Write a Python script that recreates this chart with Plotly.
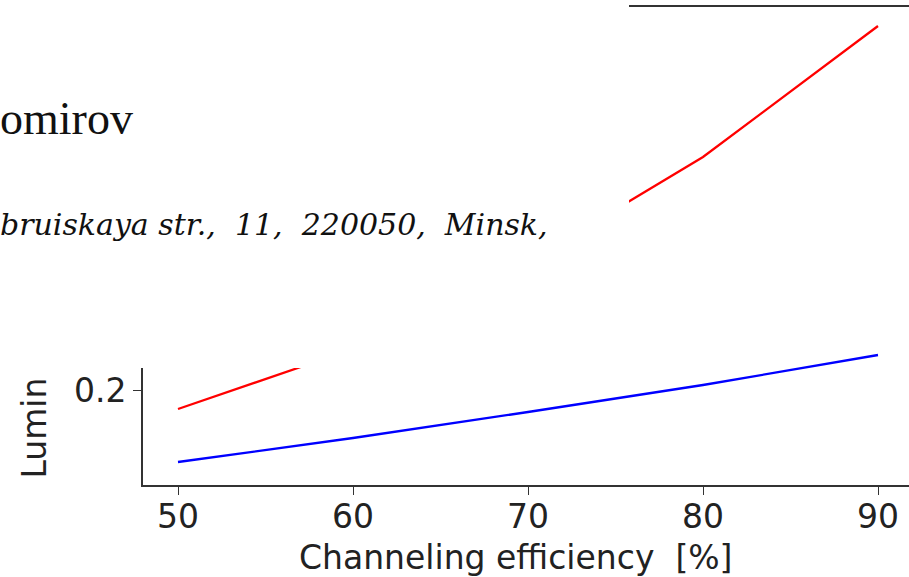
import plotly.graph_objects as go

# Data
efficiency = [50, 60, 70, 80, 90]
lum_red = [0.162, 0.282, 0.456, 0.666, 0.928]
lum_blue = [0.056, 0.104, 0.156, 0.210, 0.270]
x_ticks = [50, 60, 70, 80, 90]
y_ticks = [0.2]  # the only y tick left uncovered by the overlaid text panel

W, H = 909, 577
L, R, T, B = 143, 0, 7, 92
PW, PH = W - L - R, H - T - B


def px_x(px):
    return (px - L) / PW


def px_y(py):
    return (H - B - py) / PH


fig = go.Figure()
fig.add_trace(go.Scatter(x=efficiency, y=lum_red, mode="lines",
                         line=dict(color="#ff0000", width=2.3), hoverinfo="skip"))
fig.add_trace(go.Scatter(x=efficiency, y=lum_blue, mode="lines",
                         line=dict(color="#0000ff", width=2.3), hoverinfo="skip"))

tickfont = dict(family="DejaVu Sans", size=33, color="#222222")

fig.update_layout(
    width=W, height=H,
    margin=dict(l=L, r=R, t=T, b=B, pad=0),
    paper_bgcolor="white", plot_bgcolor="white",
    showlegend=False,
    xaxis=dict(range=[48, 48 + PW / 17.5], tickvals=x_ticks, ticks="outside",
               ticklen=8, tickwidth=1.3, tickcolor="#333333",
               ticklabelstandoff=-6,
               showgrid=False, zeroline=False, showline=True, mirror=True,
               linecolor="#333333", linewidth=1.6, tickfont=tickfont),
    yaxis=dict(range=[0.2 - 95 / 500, 0.2 + 383 / 500], tickvals=y_ticks,
               ticktext=["0.2"],
               ticks="outside", ticklen=8, tickwidth=1.3, tickcolor="#333333",
               showgrid=False, zeroline=False, showline=True,
               linecolor="#333333", linewidth=1.6, tickfont=tickfont),
    shapes=[dict(type="rect", xref="paper", yref="paper",
                 x0=px_x(-10), x1=px_x(629), y0=px_y(368), y1=px_y(-10),
                 fillcolor="white", line=dict(width=0), layer="above")],
    annotations=[
        dict(text="Channeling efficiency\u00a0 [%]", xref="paper", yref="paper",
             x=px_x(516), y=px_y(557), xanchor="center", yanchor="middle",
             showarrow=False, font=dict(family="DejaVu Sans", size=33, color="#222222")),
        dict(text="Lumin", xref="paper", yref="paper", textangle=-90,
             x=px_x(34), y=px_y(481), xanchor="center", yanchor="bottom",
             showarrow=False, font=dict(family="DejaVu Sans", size=33, color="#222222")),
        dict(text="omirov", xref="paper", yref="paper",
             x=px_x(-2), y=px_y(119), xanchor="left", yanchor="middle",
             showarrow=False, font=dict(family="Liberation Serif", size=46, color="#111111")),
        dict(text="<i>bruiskaya str.,\u00a0 11,\u00a0 220050,\u00a0 Minsk,</i>",
             xref="paper", yref="paper",
             x=px_x(-2), y=px_y(224), xanchor="left", yanchor="middle",
             showarrow=False, font=dict(family="DejaVu Serif", size=30, color="#111111")),
    ],
)

fig.write_html("out.html")
